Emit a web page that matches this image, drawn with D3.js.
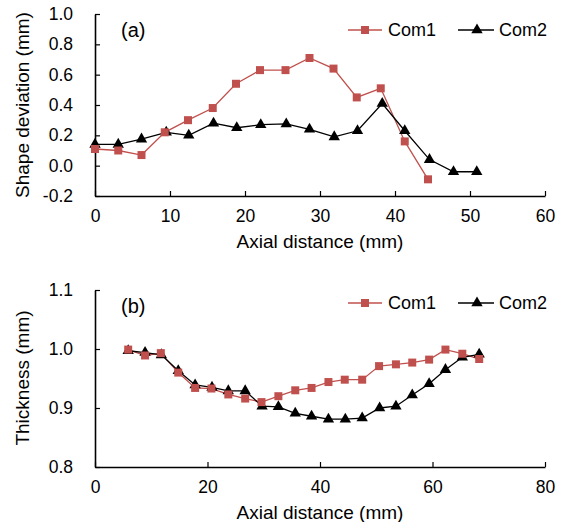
<!DOCTYPE html>
<html>
<head>
<meta charset="utf-8">
<script src="https://cdn.jsdelivr.net/npm/d3@7"></script>
<style>
  body { margin: 0; background: #fff; }
  text { font-family: "Liberation Sans", Arial, sans-serif; fill: #000; }
</style>
</head>
<body>
<svg width="564" height="522"></svg>
<script>
// (a) shape deviation
var aX1 = [0, 3.1, 6.2, 9.3, 12.4, 15.7, 18.8, 22.0, 25.4, 28.6, 31.8, 34.9, 38.1, 41.3, 44.4];
var aY1 = [0.11, 0.10, 0.07, 0.22, 0.30, 0.38, 0.54, 0.63, 0.63, 0.71, 0.64, 0.45, 0.51, 0.16, -0.09];
var aX2 = [0, 3.1, 6.2, 9.5, 12.5, 15.8, 18.9, 22.1, 25.5, 28.6, 31.9, 35.0, 38.3, 41.3, 44.6, 47.8, 50.9];
var aY2 = [0.14, 0.14, 0.175, 0.22, 0.20, 0.28, 0.25, 0.27, 0.275, 0.24, 0.19, 0.23, 0.41, 0.23, 0.04, -0.04, -0.04];
var aXTicks = [0, 10, 20, 30, 40, 50, 60];
var aYTicks = [-0.2, 0.0, 0.2, 0.4, 0.6, 0.8, 1.0];

// (b) thickness
var bX1 = [5.9, 8.9, 11.7, 14.8, 17.8, 20.7, 23.7, 26.7, 29.6, 32.6, 35.6, 38.5, 41.5, 44.4, 47.5, 50.5, 53.5, 56.4, 59.4, 62.3, 65.3, 68.3];
var bY1 = [0.999, 0.989, 0.993, 0.960, 0.934, 0.933, 0.923, 0.916, 0.910, 0.920, 0.930, 0.934, 0.944, 0.948, 0.948, 0.971, 0.974, 0.977, 0.982, 0.999, 0.992, 0.983];
var bX2 = [5.9, 8.9, 11.8, 14.8, 17.8, 20.8, 23.7, 26.7, 29.7, 32.6, 35.6, 38.5, 41.5, 44.5, 47.5, 50.6, 53.5, 56.4, 59.4, 62.3, 65.3, 68.3];
var bY2 = [0.997, 0.994, 0.990, 0.963, 0.939, 0.935, 0.929, 0.929, 0.903, 0.902, 0.891, 0.886, 0.881, 0.881, 0.883, 0.900, 0.903, 0.922, 0.941, 0.965, 0.986, 0.991];
var bXTicks = [0, 20, 40, 60, 80];
var bYTicks = [0.8, 0.9, 1.0, 1.1];

var seriesNames = ["Com1", "Com2"];
var red = "#C0504D";

var svg = d3.select("svg");

function panel(o) {
    var x = d3.scaleLinear().domain(o.xDomain).range([95, 545]);
    var y = d3.scaleLinear().domain(o.yDomain).range([o.bottom, o.top]);
    var g = svg.append("g");

    // axes, ticks point inward
    g.append("g").attr("transform", "translate(0," + o.bottom + ")")
        .call(d3.axisBottom(x).tickValues(o.xTicks).tickSizeInner(-5).tickSizeOuter(0).tickPadding(14));
    g.append("g").attr("transform", "translate(95,0)")
        .call(d3.axisLeft(y).tickValues(o.yTicks).tickFormat(function(d) { return d.toFixed(1); })
            .tickSizeInner(-5).tickSizeOuter(0).tickPadding(22));
    g.selectAll(".domain").attr("stroke-width", 1.6);
    g.selectAll(".tick line").attr("stroke-width", 1.2);
    g.selectAll(".tick text").style("font-size", "17.5px");

    // titles
    g.append("text").attr("x", 320).attr("y", o.bottom + 52).attr("text-anchor", "middle")
        .style("font-size", "19px").text("Axial distance (mm)");
    g.append("text").attr("transform", "translate(29," + o.yTitleCenter + ") rotate(-90)")
        .attr("text-anchor", "middle").style("font-size", "19px").text(o.yTitle);
    g.append("text").attr("x", 121).attr("y", o.top + 23).style("font-size", "20px").text(o.label);

    var line = d3.line().x(function(d) { return x(d[0]); }).y(function(d) { return y(d[1]); });
    var d1 = d3.zip(o.x1, o.y1), d2 = d3.zip(o.x2, o.y2);

    g.append("path").datum(d1).attr("d", line).attr("fill", "none").attr("stroke", red).attr("stroke-width", 1.3);
    g.append("path").datum(d2).attr("d", line).attr("fill", "none").attr("stroke", "#000").attr("stroke-width", 1.3);

    var sq = d3.symbol().type(d3.symbolSquare).size(64);
    var tri = d3.symbol().type(d3.symbolTriangle).size(56);

    g.selectAll(".m2").data(d2).enter().append("path")
        .attr("d", tri).attr("fill", "#000")
        .attr("transform", function(d) { return "translate(" + x(d[0]) + "," + y(d[1]) + ")"; });
    g.selectAll(".m1").data(d1).enter().append("path")
        .attr("d", sq).attr("fill", red)
        .attr("transform", function(d) { return "translate(" + x(d[0]) + "," + y(d[1]) + ")"; });

    // legend
    var ly = o.legendY;
    g.append("line").attr("x1", 348).attr("x2", 382).attr("y1", ly).attr("y2", ly).attr("stroke", red).attr("stroke-width", 1.3);
    g.append("path").attr("d", sq).attr("fill", red).attr("transform", "translate(365," + ly + ")");
    g.append("text").attr("x", 388).attr("y", ly + 6).style("font-size", "18px").text(seriesNames[0]);
    g.append("line").attr("x1", 458).attr("x2", 494).attr("y1", ly).attr("y2", ly).attr("stroke", "#000").attr("stroke-width", 1.3);
    g.append("path").attr("d", tri).attr("fill", "#000").attr("transform", "translate(477," + ly + ")");
    g.append("text").attr("x", 499).attr("y", ly + 6).style("font-size", "18px").text(seriesNames[1]);
}

panel({ xDomain: [0, 60], yDomain: [-0.2, 1.0], top: 14, bottom: 196,
        xTicks: aXTicks, yTicks: aYTicks, x1: aX1, y1: aY1, x2: aX2, y2: aY2,
        yTitle: "Shape deviation (mm)", yTitleCenter: 105, label: "(a)", legendY: 30 });
panel({ xDomain: [0, 80], yDomain: [0.8, 1.1], top: 290, bottom: 467,
        xTicks: bXTicks, yTicks: bYTicks, x1: bX1, y1: bY1, x2: bX2, y2: bY2,
        yTitle: "Thickness (mm)", yTitleCenter: 378, label: "(b)", legendY: 303 });
</script>
</body>
</html>
